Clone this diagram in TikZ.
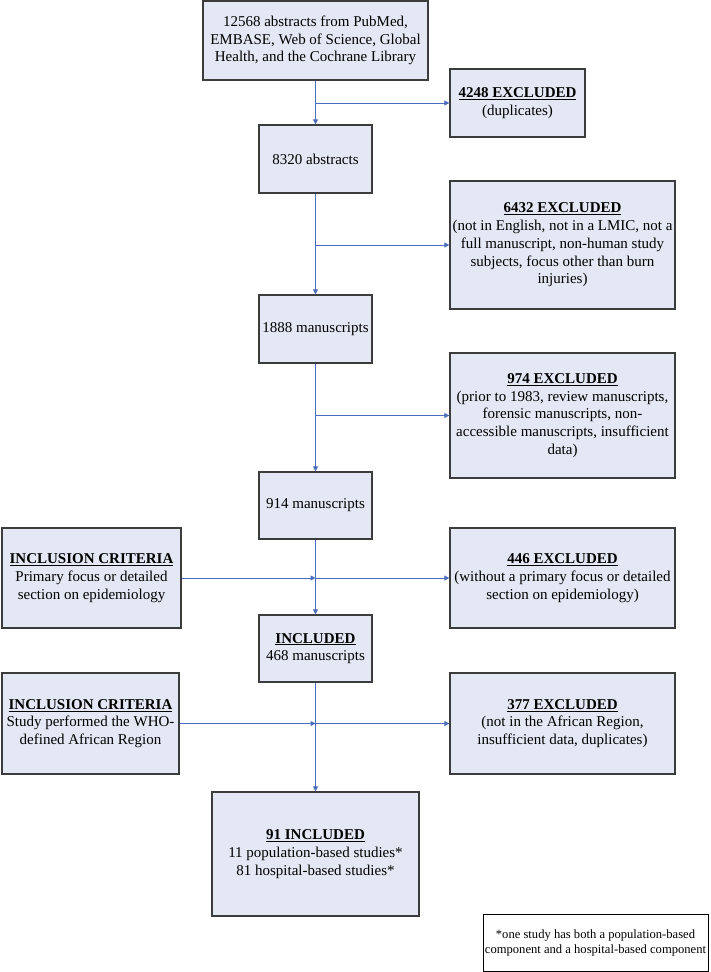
\documentclass[tikz,border=0pt]{standalone}
\usepackage{fontspec}
\setmainfont{Liberation Serif}
\usetikzlibrary{arrows.meta}
\definecolor{boxfill}{RGB}{228,232,244}
\definecolor{boxline}{RGB}{60,60,60}
\definecolor{arrowblue}{RGB}{76,108,190}
\newcommand\myhd[1]{\underline{\textbf{#1}}}
\tikzset{
  box/.style={draw=boxline, fill=boxfill, line width=1.3pt, align=center, inner sep=0pt,
    font=\fontsize{15}{17.7}\selectfont},
  notebox/.style={draw=black, fill=white, line width=0.9pt, align=center, inner sep=0pt,
    font=\fontsize{12.6}{15}\selectfont},
  arr/.style={draw=arrowblue, line width=1pt, -{Triangle[length=5pt,width=5pt]}}
}
\begin{document}
\begin{tikzpicture}[x=1pt,y=-1pt]
\useasboundingbox (0,0) rectangle (710,972);
\node[box, minimum width=225pt, minimum height=79pt] (top) at (315.5,40.5)
  {12568 abstracts from PubMed,\\EMBASE, Web of Science, Global\\Health, and the Cochrane Library};
\node[box, minimum width=135pt, minimum height=68pt] (ex1) at (517.5,103)
  {\myhd{4248 EXCLUDED}\\(duplicates)};
\node[box, minimum width=113pt, minimum height=68pt] (n2) at (315.5,159) {8320 abstracts};
\node[box, minimum width=225pt, minimum height=128pt] (ex2) at (562.5,245)
  {\myhd{6432 EXCLUDED}\\(not in English, not in a LMIC, not a\\full manuscript, non-human study\\subjects, focus other than burn\\injuries)};
\node[box, minimum width=113pt, minimum height=68pt] (n3) at (315.5,329) {1888 manuscripts};
\node[box, minimum width=225pt, minimum height=125pt] (ex3) at (562.5,415.5)
  {\myhd{974 EXCLUDED}\\(prior to 1983, review manuscripts,\\forensic manuscripts, non-\\accessible manuscripts, insufficient\\data)};
\node[box, minimum width=113pt, minimum height=67pt] (n4) at (315.5,505.5) {914 manuscripts};
\node[box, minimum width=179pt, minimum height=100pt] (ic1) at (91.5,578)
  {\myhd{INCLUSION CRITERIA}\\Primary focus or detailed\\section on epidemiology};
\node[box, minimum width=225pt, minimum height=100pt] (ex4) at (562.5,578)
  {\myhd{446 EXCLUDED}\\(without a primary focus or detailed\\section on epidemiology)};
\node[box, minimum width=113pt, minimum height=67pt] (n5) at (315.5,648.5)
  {\myhd{INCLUDED}\\468 manuscripts};
\node[box, minimum width=177pt, minimum height=101pt] (ic2) at (90.5,723.5)
  {\myhd{INCLUSION CRITERIA}\\Study performed the WHO-\\defined African Region};
\node[box, minimum width=225pt, minimum height=101pt] (ex5) at (562.5,723.5)
  {\myhd{377 EXCLUDED}\\(not in the African Region,\\insufficient data, duplicates)};
\node[box, minimum width=207pt, minimum height=124pt] (fin) at (315.5,854)
  {\myhd{91 INCLUDED}\\11 population-based studies*\\81 hospital-based studies*};
\node[notebox, minimum width=225pt, minimum height=57pt] (note) at (595.5,942.5)
  {*one study has both a population-based\\component and a hospital-based component};

\draw[arr] (top.south) -- (n2.north);
\draw[arr] (top.south |- ex1.west) -- (ex1.west);
\draw[arr] (n2.south) -- (n3.north);
\draw[arr] (n2.south |- ex2.west) -- (ex2.west);
\draw[arr] (n3.south) -- (n4.north);
\draw[arr] (n3.south |- ex3.west) -- (ex3.west);
\draw[arr] (n4.south) -- (n5.north);
\coordinate (j1) at (n4.south |- ic1.east);
\draw[arr] (ic1.east) -- (j1);
\draw[arr] (j1) -- (ex4.west);
\draw[arr] (n5.south) -- (fin.north);
\coordinate (j2) at (n5.south |- ic2.east);
\draw[arr] (ic2.east) -- (j2);
\draw[arr] (j2) -- (ex5.west);
\end{tikzpicture}
\end{document}
